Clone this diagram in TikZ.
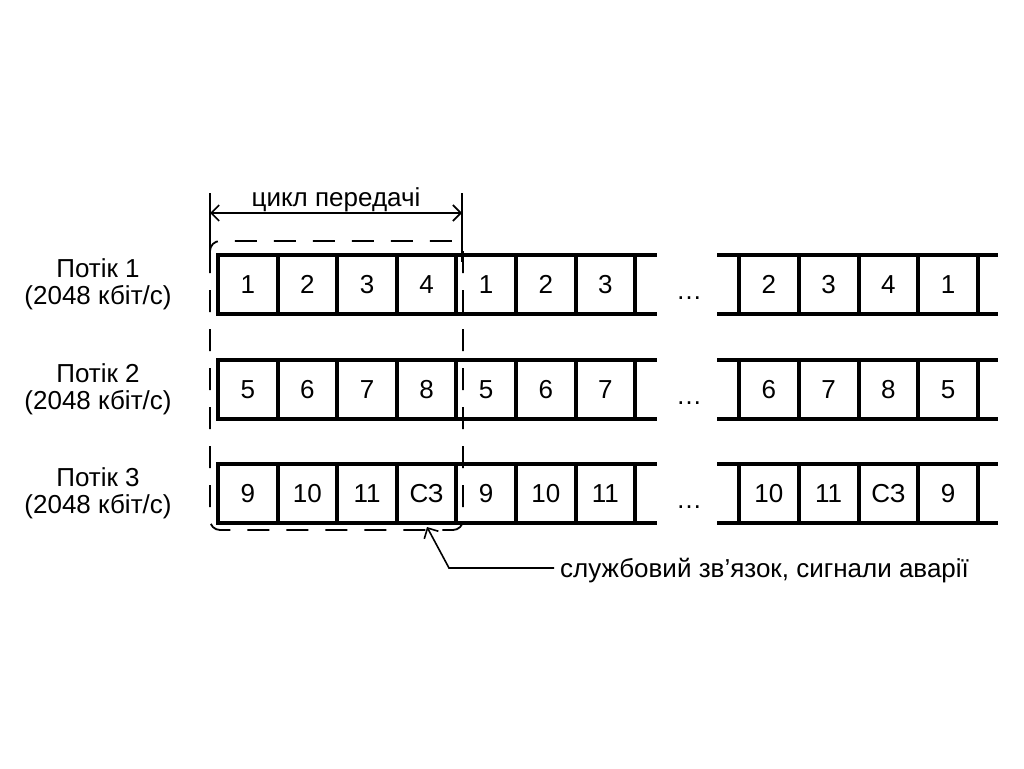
\documentclass[tikz,border=0pt]{standalone}
\usepackage{fontspec}
\setmainfont{Liberation Sans}
\usetikzlibrary{arrows.meta}
\begin{document}
\begin{tikzpicture}[x=1pt,y=-1pt,
  frame/.style={line width=4pt},
  cell/.style={font=\fontsize{26}{29}\selectfont, inner sep=0pt, anchor=base},
  lbl/.style={font=\fontsize{26}{27}\selectfont, align=center, inner sep=0pt},
  thinline/.style={line width=1.6pt},
  dashbox/.style={line width=1.8pt, dash pattern=on 22pt off 17pt, rounded corners=10pt},
  vtip/.tip={Straight Barb[length=8pt,width=16pt,line width=1.6pt]}
]
\useasboundingbox (0,0) rectangle (1024,768);

% rows
\foreach \t/\r/\la/\lb in {255/1/{1,2,3,4,1,2,3}/{2,3,4,1},
                           360/2/{5,6,7,8,5,6,7}/{6,7,8,5},
                           464/3/{9,10,11,СЗ,9,10,11}/{10,11,СЗ,9}} {
  \draw[frame] (216,\t) -- (657,\t);
  \draw[frame] (216,\t+59) -- (657,\t+59);
  \draw[frame] (717,\t) -- (998,\t);
  \draw[frame] (717,\t+59) -- (998,\t+59);
  \foreach \i in {0,...,7} \draw[frame] (218+59.6*\i,\t) -- ++(0,59);
  \foreach \i in {0,...,4} \draw[frame] (739+59.75*\i,\t) -- ++(0,59);
  \foreach \v [count=\j from 0] in \la
    \node[cell] (a\r-\j) at (218+59.6*\j+29.8,\t+38) {\v};
  \foreach \v [count=\j from 0] in \lb
    \node[cell] (b\r-\j) at (739+59.75*\j+29.9,\t+38) {\v};
  \node[cell] (dots\r) at (689,\t+44) {…};
  \node[lbl, anchor=base] (lab\r) at (98,\t+49) {Потік \r\\(2048 кбіт/с)};
}

% dashed cycle frame
\draw[dashbox] (210,241) rectangle (463,530);

% dimension
\coordinate (dl) at (210,213);
\coordinate (dr) at (462,213);
\draw[thinline] (210,193) -- (210,252);
\draw[thinline] (462,193) -- (462,262);
\draw[thinline, vtip-vtip] (dl) -- (dr);
\node[lbl, anchor=base] (cyc) at (336,206) {цикл передачі};

% annotation
\node[lbl, anchor=base west] (note) at (560,577) {службовий зв’язок, сигнали аварії};
\coordinate (tipa) at (427,527);
\coordinate (knee) at (449,568);
\coordinate (lend) at (554,568);
\draw[thinline, -vtip] (lend) -- (knee) -- (tipa);
\end{tikzpicture}
\end{document}
